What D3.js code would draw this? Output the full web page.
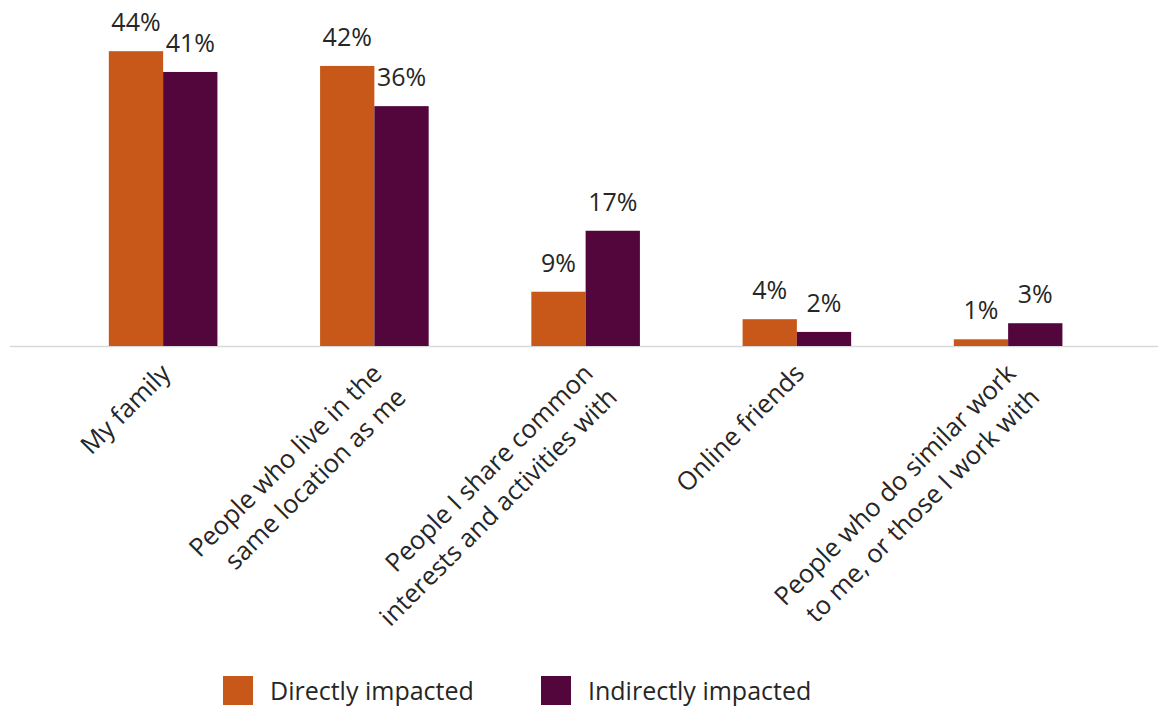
<!DOCTYPE html>
<html>
<head>
<meta charset="utf-8">
<script src="https://cdn.jsdelivr.net/npm/d3@7"></script>
<style>
  html, body { margin: 0; padding: 0; background: #ffffff; }
  svg { display: block; font-family: "Open Sans", sans-serif; }
</style>
</head>
<body>
<svg id="chart" width="1158" height="706"></svg>
<script>
// ---- Data ----
const categories = [
  "My family",
  "People who live in the same location as me",
  "People I share common interests and activities with",
  "Online friends",
  "People who do similar work to me, or those I work with"
];
const categoryLines = [
  ["My family"],
  ["People who live in the", "same location as me"],
  ["People I share common", "interests and activities with"],
  ["Online friends"],
  ["People who do similar work", "to me, or those I work with"]
];
const seriesNames = ["Directly impacted", "Indirectly impacted"];
const directValues = [44, 41.8, 8.1, 4.0, 1.0];
const indirectValues = [40.9, 35.8, 17.2, 2.1, 3.4];
const directLabels = ["44%", "42%", "9%", "4%", "1%"];
const indirectLabels = ["41%", "36%", "17%", "2%", "3%"];
const seriesColors = ["#C8581A", "#53063C"];

// ---- Layout ----
const svg = d3.select("#chart");
const textColor = "#262626";

const y = d3.scaleLinear().domain([0, 50]).range([346, 11]);
const x0 = d3.scaleBand().domain(categories).range([57.5, 1113.75])
  .paddingInner(0.486).paddingOuter(0.243);
const x1 = d3.scaleBand().domain(seriesNames).range([0, x0.bandwidth()]);
const color = d3.scaleOrdinal().domain(seriesNames).range(seriesColors);

const rows = categories.map((c, i) => ({
  category: c,
  lines: categoryLines[i],
  bars: [
    { series: seriesNames[0], value: directValues[i], label: directLabels[i] },
    { series: seriesNames[1], value: indirectValues[i], label: indirectLabels[i] }
  ]
}));

// axis baseline
svg.append("line")
  .attr("x1", 10).attr("x2", 1158)
  .attr("y1", y(0) + 0.5).attr("y2", y(0) + 0.5)
  .attr("stroke", "#D9D9D9").attr("stroke-width", 1.5);

const groups = svg.selectAll("g.cat").data(rows).join("g")
  .attr("class", "cat")
  .attr("transform", d => `translate(${x0(d.category)},0)`);

groups.selectAll("rect").data(d => d.bars).join("rect")
  .attr("x", d => x1(d.series))
  .attr("y", d => y(d.value))
  .attr("width", x1.bandwidth())
  .attr("height", d => y(0) - y(d.value))
  .attr("fill", d => color(d.series));

groups.selectAll("text.val").data(d => d.bars).join("text")
  .attr("class", "val")
  .attr("x", d => x1(d.series) + x1.bandwidth() / 2)
  .attr("y", d => y(d.value) - 20)
  .attr("text-anchor", "middle")
  .attr("font-size", 25)
  .attr("fill", textColor)
  .text(d => d.label);

// category labels, rotated -45
const catLabels = svg.selectAll("g.catlab").data(rows).join("g")
  .attr("class", "catlab")
  .attr("transform", d => `translate(${x0(d.category) + x0.bandwidth() / 2 + 9},${y(0) + 29}) rotate(-45)`);

catLabels.append("text")
  .attr("text-anchor", "end")
  .attr("font-size", 25.5)
  .attr("fill", textColor)
  .selectAll("tspan").data(d => d.lines).join("tspan")
  .attr("x", 0)
  .attr("y", (d, i) => i * 34)
  .text(d => d);

// legend
const legendX = [223, 541];
const legend = svg.selectAll("g.leg").data(seriesNames).join("g")
  .attr("class", "leg")
  .attr("transform", (d, i) => `translate(${legendX[i]},676)`);
legend.append("rect")
  .attr("width", 30).attr("height", 29)
  .attr("fill", d => color(d));
legend.append("text")
  .attr("x", 47).attr("y", 24)
  .attr("font-size", 25)
  .attr("fill", textColor)
  .text(d => d);
</script>
</body>
</html>
